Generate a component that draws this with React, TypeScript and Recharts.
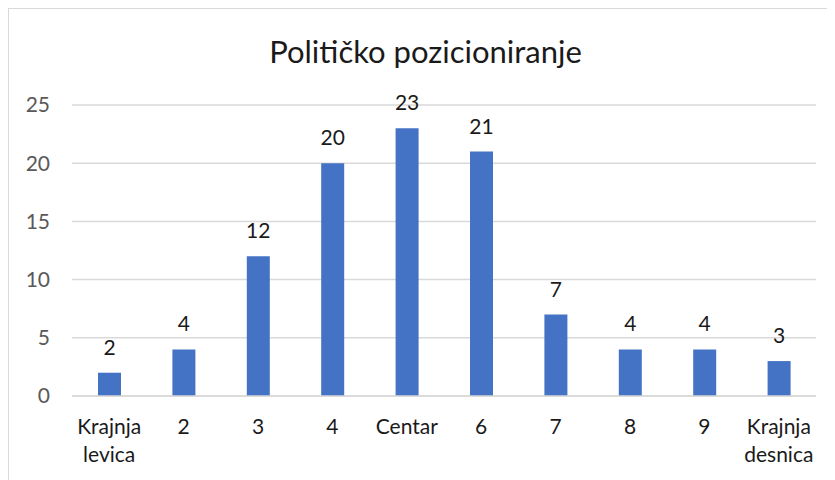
import React from "react";
import { BarChart, Bar, XAxis, YAxis, CartesianGrid, LabelList } from "recharts";

const categories = ["Krajnja levica", "2", "3", "4", "Centar", "6", "7", "8", "9", "Krajnja desnica"];
const counts = [2, 4, 12, 20, 23, 21, 7, 4, 4, 3];
const yTicks = [0, 5, 10, 15, 20, 25];
const title = "Političko pozicioniranje";

const data = categories.map((name, i) => ({ name, value: counts[i] }));

const FONT = "Lato, 'Noto Sans', sans-serif";

const CategoryTick = (props: any) => {
  const { x, y, payload } = props;
  const words = String(payload.value).split(" ");
  return (
    <text x={x} y={y} textAnchor="middle" fill="#1a1a1a" fontSize={21} fontFamily={FONT}>
      {words.map((w: string, i: number) => (
        <tspan key={i} x={x} dy={i === 0 ? 38 : 28}>
          {w}
        </tspan>
      ))}
    </text>
  );
};

export default function App() {
  const W = 833;
  const H = 480;
  return (
    <div
      style={{
        position: "relative",
        width: W,
        height: H,
        border: "1px solid #d9d9d9",
        background: "#fff",
        fontFamily: FONT,
      }}
    >
      <div
        style={{
          position: "absolute",
          left: 0,
          top: 22,
          width: W,
          textAlign: "center",
          fontSize: 31,
          lineHeight: "40px",
          color: "#1a1a1a",
          fontFamily: FONT,
        }}
      >
        {title}
      </div>
      <BarChart
        width={W}
        height={H}
        data={data}
        margin={{ top: 96, right: 26, left: 0, bottom: 0 }}
      >
        <CartesianGrid vertical={false} stroke="#d9d9d9" strokeWidth={1.5} />
        <XAxis
          dataKey="name"
          axisLine={{ stroke: "#d9d9d9", strokeWidth: 1.5 }}
          tickLine={false}
          tickSize={0}
          tickMargin={0}
          interval={0}
          height={93}
          tick={<CategoryTick />}
        />
        <YAxis
          domain={[0, 25]}
          ticks={yTicks}
          axisLine={false}
          tickLine={false}
          tickSize={0}
          tickMargin={22}
          width={63}
          tick={{ fill: "#595959", fontSize: 21, fontFamily: FONT }}
        />
        <Bar dataKey="value" fill="#4472C4" barSize={23} isAnimationActive={false}>
          <LabelList
            dataKey="value"
            position="top"
            offset={18}
            fill="#1a1a1a"
            fontSize={21}
            fontFamily={FONT}
          />
        </Bar>
      </BarChart>
    </div>
  );
}
